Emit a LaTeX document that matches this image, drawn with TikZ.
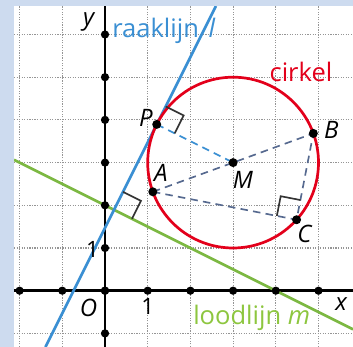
\documentclass[tikz,border=0pt]{standalone}
\usepackage{fontspec}
\setmainfont{Open Sans}
\usetikzlibrary{calc}
\definecolor{bgblue}{HTML}{CDDBEF}
\definecolor{cred}{HTML}{E3001B}
\definecolor{lblue}{HTML}{3A8FD3}
\definecolor{mgreen}{HTML}{7CB842}
\definecolor{tgreen}{HTML}{8DC63F}
\definecolor{slate}{HTML}{56698F}
\definecolor{gridgray}{HTML}{959595}
\begin{document}
\begin{tikzpicture}[
  gridline/.style={gridgray, line width=0.8pt, dash pattern=on 0.8pt off 0.9pt},
  axisline/.style={black, line width=1.6pt},
  tickdot/.style={circle, fill=black, inner sep=0pt, minimum size=5.5pt},
  ptdot/.style={circle, fill=black, inner sep=0pt, minimum size=6pt},
  dashline/.style={line width=1.1pt, dash pattern=on 5pt off 3.5pt},
  rmark/.style={line width=1.1pt, black!80},
  ptlabel/.style={font=\fontsize{16}{18}\selectfont\itshape, inner sep=0pt},
  numlabel/.style={font=\fontsize{15}{17}\selectfont, inner sep=0pt},
  biglabel/.style={font=\fontsize{17}{20}\selectfont, inner sep=0pt, anchor=base west},
]
% background and panel
\fill[bgblue] (-2.459,-1.318) rectangle (5.808,6.808);
\fill[white] (-2.131,-1.318) rectangle (5.808,6.667);
\useasboundingbox (-2.459,-1.318) rectangle (5.808,6.808);

\begin{scope}
\clip (-2.131,-1.318) rectangle (5.808,6.667);
% grid
\foreach \gx in {-2,-1,1,2,3,4,5} \draw[gridline] (\gx,-1.318) -- (\gx,6.667);
\foreach \gy in {-1,1,2,3,4,5,6} \draw[gridline] (-2.131,\gy) -- (5.808,\gy);

% axes
\coordinate (xl) at (-2.131,0);
\coordinate (xr) at (5.808,0);
\coordinate (yt) at (0,6.667);
\coordinate (yb) at (0,-1.318);
\draw[axisline] (xl) -- (xr);
\draw[axisline] (yt) -- (yb);

% points
\coordinate (M) at (3,3);
\coordinate (P) at ($(M)+(153.435:2)$);
\coordinate (A) at ($(M)+(200:2)$);
\coordinate (B) at ($(M)+(20:2)$);
\coordinate (C) at ($(M)+(-42:2)$);
\coordinate (Q) at (0.2111,1.8944);

% loodlijn m
\coordinate (ml) at (-2.131,3.0655);
\coordinate (mr) at (5.808,-0.904);
\draw[mgreen, line width=1.8pt] (ml) -- (mr);

% raaklijn l
\coordinate (lt) at (2.597,6.667);
\coordinate (lb) at (-1.395,-1.318);
\draw[lblue, line width=1.8pt] (lb) -- (lt);

% circle
\draw[cred, line width=1.8pt] (M) circle (2);

% dashed segments
\draw[dashline, lblue] (P) -- (M);
\draw[dashline, slate] (A) -- (M) -- (B);
\draw[dashline, slate] (A) -- (C) -- (B);

% right-angle marks
\draw[rmark] ($(Q)+(63.435:0.47)$) -- ($(Q)+(63.435:0.47)+(-26.565:0.47)$) -- ($(Q)+(-26.565:0.47)$);
\draw[rmark] ($(P)+(63.435:0.47)$) -- ($(P)+(63.435:0.47)+(-26.565:0.47)$) -- ($(P)+(-26.565:0.47)$);
\draw[rmark] ($(C)+(169:0.47)$) -- ($(C)+(169:0.47)+(79:0.47)$) -- ($(C)+(79:0.47)$);

% tick dots
\foreach \t in {-1,...,6} \node[tickdot] (ty\t) at (0,\t) {};
\foreach \t in {-2,...,5} \node[tickdot] (tx\t) at (\t,0) {};

% point dots
\node[ptdot] (dP) at (P) {};
\node[ptdot] (dA) at (A) {};
\node[ptdot] (dB) at (B) {};
\node[ptdot] (dC) at (C) {};
\node[ptdot] (dM) at (M) {};
\end{scope}

% labels
\node[ptlabel] (ly) at (-0.38,6.3) {y};
\node[ptlabel] (lx) at (5.53,-0.31) {x};
\node[ptlabel] (lO) at (-0.386,-0.393) {O};
\node[numlabel] (l1x) at (1.0,-0.36) {1};
\node[numlabel] (l1y) at (-0.29,0.965) {1};
\node[ptlabel] (lP) at (0.96,4.056) {P};
\node[ptlabel] (lA) at (1.31,2.75) {A};
\node[ptlabel] (lM) at (3.23,2.59) {M};
\node[ptlabel] (lB) at (5.30,3.775) {B};
\node[ptlabel] (lC) at (4.67,1.34) {C};

\node[biglabel, text=lblue] (traak) at (0.164,5.925) {raaklijn};
\node[biglabel, text=lblue, font=\fontsize{17}{20}\selectfont\itshape] (tl) at (2.42,5.925) {l};
\node[biglabel, text=cred] (tcirk) at (3.848,4.895) {cirkel};
\node[biglabel, text=tgreen] (tlood) at (2.06,-0.80) {loodlijn \textit{m}};
\end{tikzpicture}
\end{document}
